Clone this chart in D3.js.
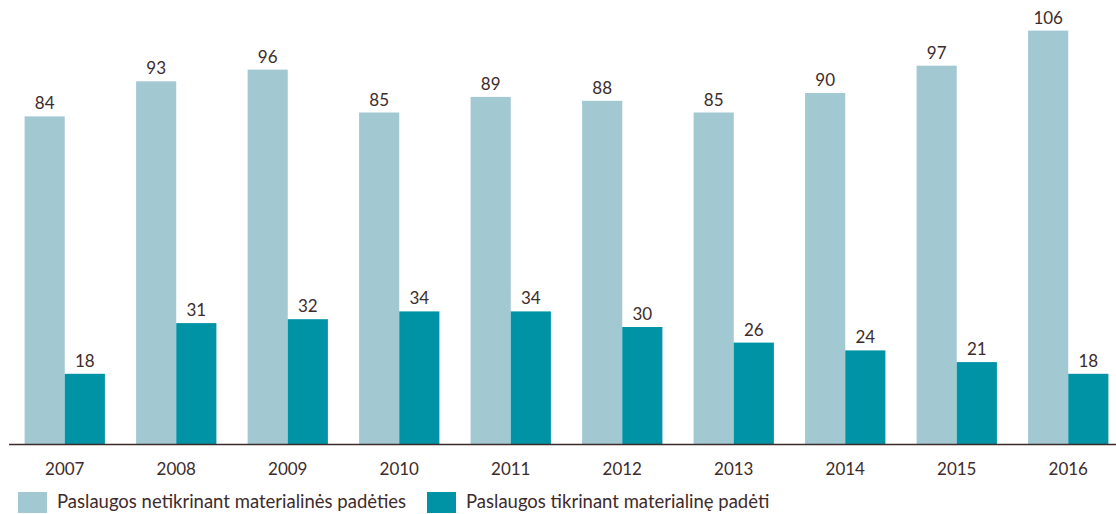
<!DOCTYPE html>
<html>
<head>
<meta charset="utf-8">
<script src="https://cdnjs.cloudflare.com/ajax/libs/d3/7.8.5/d3.min.js"></script>
<style>
	body { margin: 0; background: #fff; }
	text { font-family: Lato, "Open Sans", sans-serif; fill: #3d2b2b; }
</style>
</head>
<body>
<div id="chart"></div>
<script>
var years = ["2007", "2008", "2009", "2010", "2011", "2012", "2013", "2014", "2015", "2016"];
var withoutCheck = [84, 93, 96, 85, 89, 88, 85, 90, 97, 106];
var withCheck = [18, 31, 32, 34, 34, 30, 26, 24, 21, 18];
var seriesNames = ["Paslaugos netikrinant materialinės padėties", "Paslaugos tikrinant materialinę padėti"];
var colors = ["#a2c8d2", "#0093a6"];

var width = 1116,
	height = 514;

var svg = d3.select("#chart")
	.append("svg")
	.attr("width", width)
	.attr("height", height);

var x = d3.scaleBand()
	.domain(years)
	.range([9, 1124])
	.paddingInner(0.28)
	.paddingOuter(0.14);

var xSub = d3.scaleBand()
	.domain([0, 1])
	.range([0, x.bandwidth()]);

var y = d3.scaleLinear()
	.domain([0, 110])
	.range([444, 444 - 110 * 3.9]);

var data = years.map(function(yr, i) {
	return { year: yr, values: [withoutCheck[i], withCheck[i]] };
});

var groups = svg.selectAll(".year")
	.data(data)
	.enter().append("g")
	.attr("class", "year")
	.attr("transform", function(d) { return "translate(" + x(d.year) + ",0)"; });

groups.selectAll("rect")
	.data(function(d) { return d.values; })
	.enter().append("rect")
	.attr("x", function(d, i) { return xSub(i); })
	.attr("width", xSub.bandwidth())
	.attr("y", function(d) { return y(d); })
	.attr("height", function(d) { return y(0) - y(d); })
	.attr("fill", function(d, i) { return colors[i]; });

groups.selectAll(".val")
	.data(function(d) { return d.values; })
	.enter().append("text")
	.attr("class", "val")
	.attr("x", function(d, i) { return xSub(i) + xSub.bandwidth() / 2; })
	.attr("y", function(d) { return y(d) - 7; })
	.attr("text-anchor", "middle")
	.style("font-size", "17px")
	.text(function(d) { return d; });

// axis
var xAxis = svg.append("g")
	.attr("transform", "translate(0," + y(0) + ")")
	.call(d3.axisBottom(x).tickSize(0).tickPadding(19));
xAxis.select(".domain")
	.attr("d", "M9,0.5H1116")
	.attr("stroke", "#3d2b2b")
	.attr("stroke-width", 1.5);
xAxis.selectAll("text")
	.style("font-size", "17px")
	.style("font-family", "Lato, 'Open Sans', sans-serif")
	.attr("fill", "#3d2b2b");

// legend
var legendX = [18, 427];
var legend = svg.selectAll(".legend")
	.data(seriesNames)
	.enter().append("g")
	.attr("class", "legend")
	.attr("transform", function(d, i) { return "translate(" + legendX[i] + ",492)"; });

legend.append("rect")
	.attr("width", 29)
	.attr("height", 21)
	.attr("fill", function(d, i) { return colors[i]; });

legend.append("text")
	.attr("x", 39)
	.attr("y", 16)
	.style("font-size", "18.5px")
	.text(function(d) { return d; });
</script>
</body>
</html>
